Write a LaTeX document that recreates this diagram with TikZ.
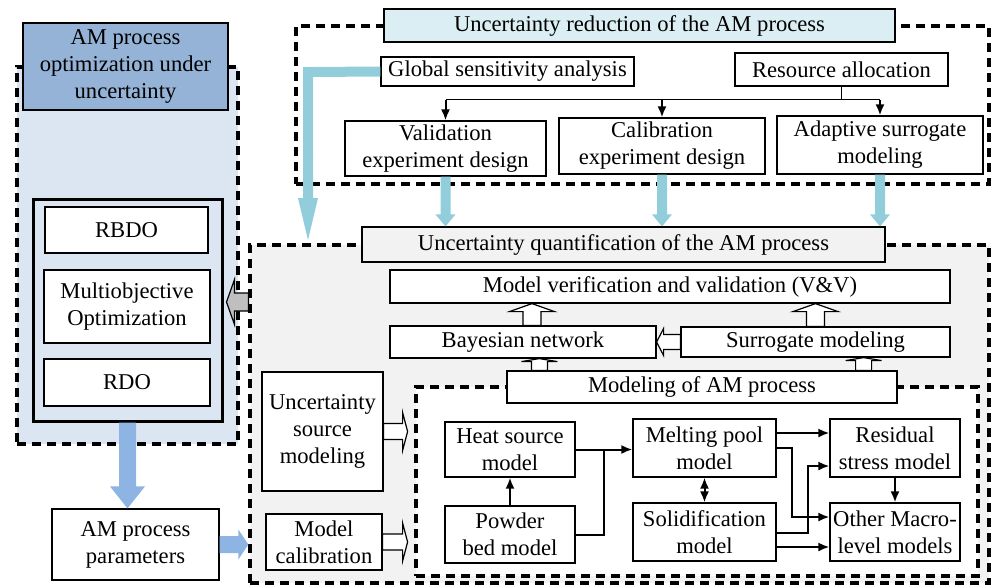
\documentclass[tikz,border=0pt]{standalone}
\usepackage{fontspec}
\setmainfont{Liberation Serif}
\usetikzlibrary{calc,arrows.meta}
\definecolor{optblue}{HTML}{95B3D7}
\definecolor{optbg}{HTML}{DCE6F2}
\definecolor{redcyan}{HTML}{DAEEF3}
\definecolor{arrcyan}{HTML}{92CDDC}
\definecolor{arrblue}{HTML}{8DB4E2}
\definecolor{uqgray}{HTML}{F2F2F2}
\definecolor{arrgray}{HTML}{BFBFBF}
\tikzset{
  rect/.style args={#1/#2/#3/#4}{at={({(#1+#3)/2},{(#2+#4)/2})},
    minimum width={(#3-#1)*0.5pt}, minimum height={(#4-#2)*0.5pt}},
  box/.style={draw, fill=white, line width=0.6pt, inner sep=0pt, align=center},
  dashbox/.style={draw, line width=1.6pt, dash pattern=on 4.5pt off 3pt, inner sep=0pt},
  conn/.style={line width=1pt, -{Latex[length=5.5pt,width=4.5pt]}},
  hollow/.style={draw, fill=white, line width=0.6pt},
}
% fat arrow: [style]{from}{tip}{half shaft}{half head}{head length}
\newcommand{\fatarrow}[6][]{%
  \draw[#1] let \p1=($(#3)-(#2)$), \n1={veclen(\x1,\y1)}, \n2={atan2(\y1,\x1)} in
    ($(#2)+(\n2+90:#4)$) -- ($(#2)+(\n2+90:#4)+(\n2:\n1-#6)$)
    -- ($(#2)+(\n2+90:#5)+(\n2:\n1-#6)$) -- (#3)
    -- ($(#2)+(\n2-90:#5)+(\n2:\n1-#6)$) -- ($(#2)+(\n2-90:#4)+(\n2:\n1-#6)$)
    -- ($(#2)+(\n2-90:#4)$) -- cycle;}
\begin{document}
\begin{tikzpicture}[x=0.5pt,y=-0.5pt,font=\fontsize{11.3}{13.5}\selectfont]
\useasboundingbox (0,0) rectangle (993,586);
% optimization
\node[dashbox, fill=optbg, rect=17/67/238/444] (optc) {};
\node[box, fill=optblue, rect=23/23/228/110] (optt) {AM process\\optimization under\\uncertainty};
\node[draw, line width=1.5pt, inner sep=0pt, rect=33/199/222/421] (meth) {};
\node[box, rect=45/207/208/253] (rbdo) {RBDO};
\node[box, rect=44/270/210/343] (moo) {Multiobjective\\Optimization};
\node[box, rect=44/359/210/406] (rdo) {RDO};
\node[box, rect=52/509/219/580] (par) {AM process\\parameters};
% reduction
\node[dashbox, rect=296/26/989/184] (redc) {};
\node[box, fill=redcyan, rect=384/9/895/42] (redt) {Uncertainty reduction of the AM process};
\node[box, rect=381/57/634/86] (gsa) {Global sensitivity analysis};
\node[box, rect=735/53/948/86] (res) {Resource allocation};
\node[box, rect=345/121/546/176] (valid) {Validation\\experiment design};
\node[box, rect=559/118/765/174] (calib) {Calibration\\experiment design};
\node[box, rect=777/116/983/174] (adapt) {Adaptive surrogate\\modeling};
% quantification
\node[dashbox, fill=uqgray, rect=250/245/989/583] (uqc) {};
\node[box, fill=uqgray, rect=362/227/885/262] (uqt) {Uncertainty quantification of the AM process};
\node[box, rect=390/270/950/303] (mvv) {Model verification and validation (V\&V)};
\node[box, rect=390/326/656/358] (bn) {Bayesian network};
\node[box, rect=681/327/950/357] (sm) {Surrogate modeling};
\node[dashbox, fill=white, rect=416/387/978/576] (modc) {};
\node[box, rect=507/371/897/403] (mam) {Modeling of AM process};
\node[box, rect=262/372/383/491] (usm) {Uncertainty\\source\\modeling};
\node[box, rect=266/514/382/570] (mcal) {Model\\calibration};
\node[box, rect=445/422/575/477] (heat) {Heat source\\model};
\node[box, rect=445/506/575/563] (pow) {Powder\\bed model};
\node[box, rect=633/419/776/477] (melt) {Melting pool\\model};
\node[box, rect=633/503/776/561] (solid) {Solidification\\model};
\node[box, rect=830/419/960/477] (resid) {Residual\\stress model};
\node[box, rect=830/503/960/561] (other) {Other Macro-\\level models};

% resource allocation links
\draw[line width=0.8pt] (res.south) -- ++(0,13) coordinate (rj);
\draw[line width=0.8pt] (rj -| valid.north) -- (rj -| adapt.north);
\foreach \b in {valid,calib,adapt}
  \draw[conn] (rj -| \b.north) -- (\b.north);
% cyan arrows into quantification
\foreach \b in {valid,calib,adapt}{
  \coordinate (\b-t) at (\b.south |- uqt.north);
  \fatarrow[fill=arrcyan, draw=none]{\b.south}{\b-t}{2.5pt}{5pt}{6pt}
}
\coordinate (lc) at (308,72);
\coordinate (lend) at (308,240);
\coordinate (lm) at ($(lc)!0.5!(lend)$);
\draw[line width=5pt, arrcyan, line join=miter] (gsa.west) -- (lc) -- (lm);
\fatarrow[fill=arrcyan, draw=none]{lm}{lend}{2.5pt}{5pt}{21pt}
% optimization links
\coordinate (mp) at (meth.south |- par.north);
\fatarrow[fill=arrblue, draw=none]{meth.south}{mp}{4.25pt}{8.75pt}{11pt}
\coordinate (pu) at (par.east -| uqc.west);
\fatarrow[fill=arrblue, draw=none]{par.east}{pu}{4.25pt}{7.5pt}{5pt}
\coordinate (g1) at ($(meth.east)+(3,-8)$);
\coordinate (g0) at (g1 -| uqc.west);
\fatarrow[hollow, fill=arrgray]{g0}{g1}{4.5pt}{11.25pt}{4pt}
% hollow arrows
\coordinate (b1) at ($(bn.north)+(9,0)$);
\coordinate (b2) at (b1 |- mvv.south);
\fatarrow[hollow]{b1}{b2}{4.5pt}{11.25pt}{4pt}
\coordinate (s2) at (sm.north |- mvv.south);
\fatarrow[hollow]{sm.north}{s2}{4.5pt}{11.25pt}{4pt}
\coordinate (sb) at (sm.west -| bn.east);
\fatarrow[hollow]{sm.west}{sb}{3.75pt}{6.75pt}{3.5pt}
\coordinate (m1) at ($(mam.north west)+(33,0)$);
\coordinate (m2) at (m1 |- bn.south);
\fatarrow[hollow]{m1}{m2}{4pt}{9pt}{1.5pt}
\coordinate (m3) at ($(mam.north east)+(-34,0)$);
\coordinate (m4) at (m3 |- sm.south);
\fatarrow[hollow]{m3}{m4}{4pt}{9pt}{1.5pt}
\coordinate (u1) at ($(usm.east)+(24,0)$);
\fatarrow[hollow]{usm.east}{u1}{4pt}{9.5pt}{2.5pt}
\coordinate (c1) at (mcal.east -| u1);
\fatarrow[hollow]{mcal.east}{c1}{4pt}{9.5pt}{2.5pt}
% modeling links
\draw[conn] (pow.north) -- (heat.south);
\coordinate (hj) at ($(heat.east)!0.5!(heat.east -| melt.west)$);
\draw[conn] (heat.east) -- (heat.east -| melt.west);
\draw[line width=1pt] (pow.east) -| (hj);
\draw[conn] ($(melt.east)+(0,-15)$) -- ($(resid.west)+(0,-15)$);
\draw[conn] (melt.east) -- ++(15,0) |- ($(other.west)+(0,-15)$);
\draw[conn] ($(solid.east)+(0,1)$) -- ++(31,0) |- ($(resid.west)+(0,18)$);
\draw[conn] ($(solid.east)+(0,15)$) -- ($(other.west)+(0,15)$);
\draw[conn] (resid.south) -- (other.north);
\draw[line width=1pt, {Latex[length=5.5pt,width=4.5pt]}-{Latex[length=5.5pt,width=4.5pt]}] (melt.south) -- (solid.north);
\end{tikzpicture}
\end{document}
